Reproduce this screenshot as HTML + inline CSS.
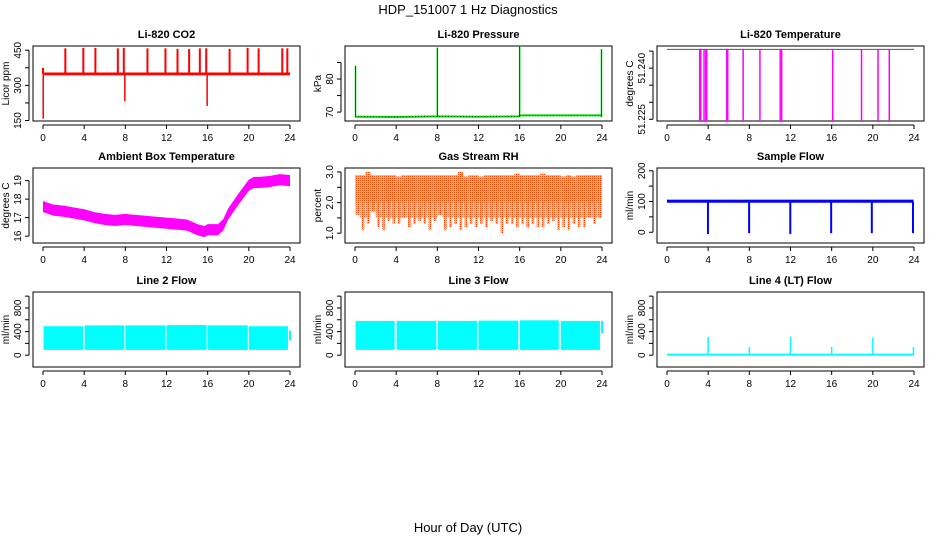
<!DOCTYPE html>
<html><head><meta charset="utf-8"><style>
html,body{margin:0;padding:0;background:#fff;}
svg{display:block;font-family:"Liberation Sans",sans-serif;}
</style></head><body>
<svg id="c" width="936" height="540" xmlns="http://www.w3.org/2000/svg">
<defs>
<pattern id="rhpat" width="2" height="2" patternUnits="userSpaceOnUse">
<rect width="2" height="2" fill="#ffcc00"/><rect width="1" height="1" fill="#ff4400"/>
</pattern>
</defs>
<text x="468" y="14" font-size="13" text-anchor="middle">HDP_151007  1 Hz Diagnostics</text>
<text x="468" y="532" font-size="13" text-anchor="middle">Hour of Day (UTC)</text>
</svg>
<script>
const xTicks=[0,4,8,12,16,20,24];
// CO2
const co2Base=349;
const co2SpikeHours=[2.17,3.92,5.09,7.27,7.85,10.15,11.9,13.07,14.2,15.24,15.86,18.13,19.88,20.95,23.25,23.74];
const co2SpikeTops=[458,460,460,458,460,458,458,456,455,458,458,456,460,458,458,458];
const co2DipHours=[0.02,7.95,15.95];
const co2DipLows=[158,232,212];
// Pressure
const presBaseHours=[0,4,8,12,15.9,16.1,20,23.9];
const presBaseVals=[68.6,68.5,68.7,68.6,68.7,69.0,69.0,69.0];
const presSpikeHours=[0.05,8,16,23.95];
const presSpikeTops=[84,89.5,90,89];
// Li-820 temperature
const tempLevel=51.2455;
const tempDropHours=[3.18,3.28,3.6,3.77,3.86,5.81,5.9,7.4,9.03,11.0,11.14,16.1,18.9,20.5,21.6];
const tempDropLow=51.2245;
// Ambient box temperature
const ambHours=[0,0.5,1,2,3,4,5,6,7,8,9,10,11,12,13,14,15,15.7,16,17,17.5,18,19,20,20.5,21,22,23,24];
const ambVals=[17.6,17.5,17.4,17.35,17.25,17.15,17.0,16.9,16.85,16.9,16.85,16.8,16.75,16.7,16.65,16.6,16.35,16.25,16.35,16.35,16.6,17.2,18.0,18.75,18.9,18.9,18.95,19.05,19.0];
// Gas stream RH
const rhHours=[0,0.5,1,1.5,2,2.5,3,3.5,4,4.5,5,5.5,6,6.5,7,7.5,8,8.5,9,9.5,10,10.5,11,11.5,12,12.5,13,13.5,14,14.5,15,15.5,16,16.5,17,17.5,18,18.5,19,19.5,20,20.5,21,21.5,22,22.5,23,23.5,24];
const rhLow=[1.6,1.1,1.3,1.7,1.2,1.1,1.4,1.3,1.3,1.5,1.2,1.3,1.4,1.3,1.1,1.4,1.6,1.1,1.2,1.3,1.1,1.2,1.3,1.2,1.3,1.2,1.4,1.3,1.0,1.3,1.3,1.2,1.3,1.2,1.3,1.2,1.2,1.3,1.4,1.1,1.2,1.1,1.3,1.2,1.2,1.5,1.3,1.5,1.7];
const rhHigh=[2.9,2.9,3.0,2.9,2.9,2.9,2.9,2.9,2.85,2.9,2.9,2.9,2.9,2.9,2.9,2.9,2.9,2.9,2.9,2.9,3.0,2.85,2.9,2.9,2.85,2.9,2.9,2.9,2.9,2.9,2.9,2.95,2.9,2.9,2.9,2.9,2.95,2.9,2.9,2.9,2.85,2.9,2.85,2.9,2.9,2.9,2.9,2.9,2.9];
// Sample flow
const sfBase=101;
const sfDipHours=[3.98,7.98,11.98,15.95,19.9,23.9];
const sfDipLows=[-6,-3,-6,-3,-3,-3];
// Line 2 flow
const l2SegStart=[0.05,4.05,8.0,12.0,16.0,20.0];
const l2SegEnd=[3.9,7.9,11.9,15.9,19.9,23.8];
const l2SegTop=[490,505,505,510,505,490];
const l2SegBottom=[90,90,90,90,90,90];
// Line 3 flow
const l3SegStart=[0.05,4.05,8.05,12.0,16.0,20.0];
const l3SegEnd=[3.85,7.9,11.85,15.85,19.8,23.8];
const l3SegTop=[580,580,580,585,590,580];
const l3SegBottom=[90,90,90,90,90,90];
// Line 4 flow
const l4Base=10;
const l4SpikeHours=[4.0,8.0,12.0,16.0,20.0,23.95];
const l4SpikeTops=[310,140,310,140,295,140];

const NS='http://www.w3.org/2000/svg';
const svg=document.getElementById('c');
function mk(tag,attrs,parent){const e=document.createElementNS(NS,tag);for(const k in attrs)e.setAttribute(k,attrs[k]);(parent||svg).appendChild(e);return e;}
const colL=[33,345,657],rowT=[46,168,292],W=267,H=75;

function panel(col,row,title,ylab,ymin,ymax,yticks,ylabels,name){
  const L=colL[col],T=rowT[row];
  const g=mk('g',{});
  
  
  const x=h=>L+10+h*(247/24);
  const y=v=>T+H-(v-ymin)/(ymax-ymin)*H;
  const t=mk('text',{x:L+W/2,y:T-8,'font-size':11,'font-weight':'bold','text-anchor':'middle'},g);t.textContent=title;
  
  const box=mk('rect',{x:L,y:T,width:W,height:H,fill:'none',stroke:'#000','stroke-width':1},g);
  
  const xa=mk('g',{},g);
  mk('line',{x1:x(0),x2:x(24),y1:T+H+4,y2:T+H+4,stroke:'#000'},xa);
  xTicks.forEach(v=>{mk('line',{x1:x(v),x2:x(v),y1:T+H+4,y2:T+H+8,stroke:'#000'},xa);
    const tt=mk('text',{x:x(v),y:T+H+20,'font-size':10,'text-anchor':'middle'},xa);tt.textContent=v;});
  const ya=mk('g',{},g);
  mk('line',{x1:L-4,x2:L-4,y1:y(yticks[0]),y2:y(yticks[yticks.length-1]),stroke:'#000'},ya);
  yticks.forEach((v,i)=>{mk('line',{x1:L-8,x2:L-4,y1:y(v),y2:y(v),stroke:'#000'},ya);
    if(ylabels[i]!==''){const tt=mk('text',{x:L-12,y:y(v),'font-size':10,'text-anchor':'middle',transform:`rotate(-90 ${L-12} ${y(v)})`},ya);tt.textContent=ylabels[i];}});
  const yl=mk('text',{x:L-24,y:T+H/2,'font-size':10,'text-anchor':'middle',transform:`rotate(-90 ${L-24} ${T+H/2})`},g);yl.textContent=ylab;
  
  const d=mk('g',{},g);
  return {x,y,d};
}
function line(p,x1,y1,x2,y2,c,w){mk('line',{x1,y1,x2,y2,stroke:c,'stroke-width':w||1},p.d);}

let p=panel(0,0,'Li-820 CO2','Licor ppm',148,468,[150,225,300,375,450],['150','','300','','450'],'co2');
mk('rect',{x:p.x(0.1),y:p.y(co2Base+6),width:p.x(24)-p.x(0.1),height:p.y(co2Base-6)-p.y(co2Base+6),fill:'#ff0000'},p.d);
line(p,p.x(0),p.y(375),p.x(0),p.y(co2Base),'#ff0000',2);
co2SpikeHours.forEach((h,i)=>line(p,p.x(h),p.y(co2Base),p.x(h),p.y(co2SpikeTops[i]),'#ff0000',2));
co2DipHours.forEach((h,i)=>line(p,p.x(h),p.y(co2Base),p.x(h),p.y(co2DipLows[i]),'#ff0000',1.5));

p=panel(1,0,'Li-820 Pressure','kPa',67.3,90,[70,75,80,85],['70','','80',''],'pressure');
mk('polyline',{points:presBaseHours.map((h,i)=>p.x(h)+','+p.y(presBaseVals[i])).join(' '),fill:'none',stroke:'#00dd00','stroke-width':2},p.d);
mk('polyline',{points:presBaseHours.map((h,i)=>p.x(h)+','+p.y(presBaseVals[i])).join(' '),fill:'none',stroke:'#000','stroke-width':0.6,'stroke-dasharray':'1 2'},p.d);
presSpikeHours.forEach((h,i)=>{line(p,p.x(h),p.y(68.5),p.x(h),p.y(presSpikeTops[i]),'#00dd00',1.5);line(p,p.x(h),p.y(68.5),p.x(h),p.y(presSpikeTops[i]),'#000',0.5);});

p=panel(2,0,'Li-820 Temperature','degrees C',51.2245,51.2465,[51.225,51.230,51.235,51.240,51.245],['51.225','','','51.240',''],'li820-temp');
line(p,p.x(0),p.y(tempLevel),p.x(24),p.y(tempLevel),'#555',1);
tempDropHours.forEach(h=>line(p,p.x(h),p.y(tempLevel),p.x(h),p.y(tempDropLow),'#ff00ff',1.5));

p=panel(0,1,'Ambient Box Temperature','degrees C',15.63,19.68,[16,17,18,19],['16','17','18','19'],'ambient-temp');
const up=ambHours.map((h,i)=>p.x(h)+','+p.y(ambVals[i]+0.3));
const dn=ambHours.map((h,i)=>p.x(h)+','+p.y(ambVals[i]-0.3)).reverse();
mk('polygon',{points:up.concat(dn).join(' '),fill:'#ff00ff'},p.d);

p=panel(1,1,'Gas Stream RH','percent',0.68,3.13,[1.0,1.5,2.0,2.5,3.0],['1.0','','2.0','','3.0'],'gas-rh');
rhHours.forEach((h,i)=>{if(i===rhHours.length-1)return;const w=p.x(rhHours[i+1])-p.x(h);
  mk('rect',{x:p.x(h),y:p.y(rhHigh[i]),width:w,height:p.y(2.0)-p.y(rhHigh[i]),fill:'url(#rhpat)'},p.d);
  mk('rect',{x:p.x(h)+w*0.3,y:p.y(2.0),width:w*0.5,height:p.y(rhLow[i])-p.y(2.0),fill:'url(#rhpat)'},p.d);
  mk('rect',{x:p.x(h),y:p.y(2.0),width:w,height:p.y(Math.max(rhLow[i],1.5))-p.y(2.0),fill:'url(#rhpat)',opacity:0.7},p.d);});

p=panel(2,1,'Sample Flow','ml/min',-35,209,[0,50,100,150,200],['0','','100','','200'],'sample-flow');
mk('rect',{x:p.x(0),y:p.y(sfBase+5),width:p.x(23.95)-p.x(0),height:p.y(sfBase-5)-p.y(sfBase+5),fill:'#0000ff'},p.d);
sfDipHours.forEach((h,i)=>line(p,p.x(h),p.y(sfBase),p.x(h),p.y(sfDipLows[i]),'#0000ff',2));

p=panel(0,2,'Line 2 Flow','ml/min',-200,1070,[0,200,400,600,800,1000],['0','','400','','800',''],'line2-flow');
l2SegStart.forEach((s,i)=>mk('rect',{x:p.x(s),y:p.y(l2SegTop[i]),width:p.x(l2SegEnd[i])-p.x(s),height:p.y(l2SegBottom[i])-p.y(l2SegTop[i]),fill:'#00ffff'},p.d));
line(p,p.x(24),p.y(250),p.x(24),p.y(420),'#00ffff',2);

p=panel(1,2,'Line 3 Flow','ml/min',-200,1070,[0,200,400,600,800,1000],['0','','400','','800',''],'line3-flow');
l3SegStart.forEach((s,i)=>mk('rect',{x:p.x(s),y:p.y(l3SegTop[i]),width:p.x(l3SegEnd[i])-p.x(s),height:p.y(l3SegBottom[i])-p.y(l3SegTop[i]),fill:'#00ffff'},p.d));
line(p,p.x(24),p.y(370),p.x(24),p.y(580),'#00ffff',2);

p=panel(2,2,'Line 4 (LT) Flow','ml/min',-200,1070,[0,200,400,600,800,1000],['0','','400','','800',''],'line4-flow');
line(p,p.x(0),p.y(l4Base),p.x(24),p.y(l4Base),'#00ffff',2);
l4SpikeHours.forEach((h,i)=>line(p,p.x(h),p.y(l4Base),p.x(h),p.y(l4SpikeTops[i]),'#00ffff',1.5));
</script>
</body></html>
